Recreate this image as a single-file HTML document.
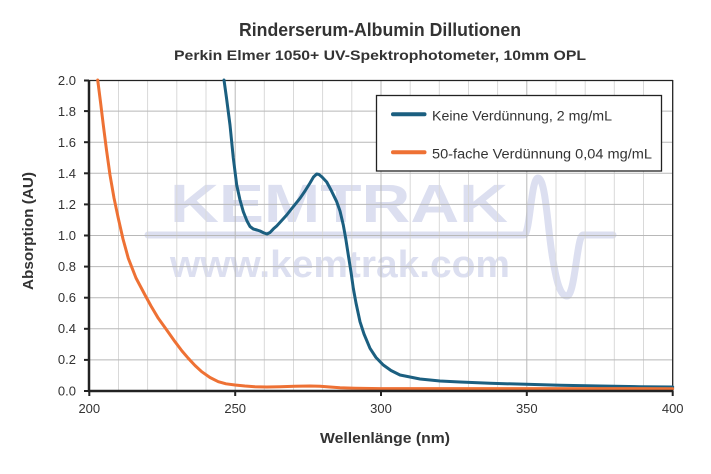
<!DOCTYPE html>
<html><head><meta charset="utf-8"><style>
html,body{margin:0;padding:0;background:#fff;}
svg{display:block;}
text{font-family:"Liberation Sans",sans-serif;fill:#333;}
</style></head><body>
<svg width="711" height="474" viewBox="0 0 711 474" xmlns="http://www.w3.org/2000/svg">
<rect width="711" height="474" fill="#fff"/>
<!-- titles -->
<text x="380" y="36" font-size="18" font-weight="bold" text-anchor="middle" textLength="282" lengthAdjust="spacingAndGlyphs">Rinderserum-Albumin Dillutionen</text>
<text x="380" y="60" font-size="14" font-weight="bold" text-anchor="middle" textLength="412" lengthAdjust="spacingAndGlyphs">Perkin Elmer 1050+ UV-Spektrophotometer, 10mm OPL</text>

<!-- watermark -->
<g fill="#dcdff0" stroke="none">
<text x="170" y="222" font-size="54" font-weight="bold" textLength="338" lengthAdjust="spacingAndGlyphs" style="fill:#dcdff0">KEMTRAK</text>
<text x="170" y="277" font-size="38" font-weight="bold" textLength="340" lengthAdjust="spacingAndGlyphs" style="fill:#dcdff0">www.kemtrak.com</text>
</g>
<path d="M148,235 H524 C530,235 531,178 538,178 C546,178 548,235 553,260 C557,285 561,296 567,296 C575,296 577,235 583,235 H613" fill="none" stroke="#dcdff0" stroke-width="7" stroke-linecap="round" stroke-linejoin="round"/>

<!-- minor vertical grid -->
<g stroke="#d9d9d9" stroke-width="1">
<line x1="118.5" y1="80" x2="118.5" y2="391"/>
<line x1="147.6" y1="80" x2="147.6" y2="391"/>
<line x1="176.8" y1="80" x2="176.8" y2="391"/>
<line x1="206" y1="80" x2="206" y2="391"/>
<line x1="264.3" y1="80" x2="264.3" y2="391"/>
<line x1="293.5" y1="80" x2="293.5" y2="391"/>
<line x1="322.6" y1="80" x2="322.6" y2="391"/>
<line x1="351.8" y1="80" x2="351.8" y2="391"/>
<line x1="410.2" y1="80" x2="410.2" y2="391"/>
<line x1="439.3" y1="80" x2="439.3" y2="391"/>
<line x1="468.5" y1="80" x2="468.5" y2="391"/>
<line x1="497.6" y1="80" x2="497.6" y2="391"/>
<line x1="556" y1="80" x2="556" y2="391"/>
<line x1="585.2" y1="80" x2="585.2" y2="391"/>
<line x1="614.3" y1="80" x2="614.3" y2="391"/>
<line x1="643.5" y1="80" x2="643.5" y2="391"/>
</g>
<g stroke="#b8b8b8" stroke-width="1">
<line x1="235.2" y1="80" x2="235.2" y2="391"/>
<line x1="381" y1="80" x2="381" y2="391"/>
<line x1="526.8" y1="80" x2="526.8" y2="391"/>
<line x1="89" y1="111.1" x2="673" y2="111.1"/>
<line x1="89" y1="142.2" x2="673" y2="142.2"/>
<line x1="89" y1="173.3" x2="673" y2="173.3"/>
<line x1="89" y1="204.4" x2="673" y2="204.4"/>
<line x1="89" y1="235.5" x2="673" y2="235.5"/>
<line x1="89" y1="266.6" x2="673" y2="266.6"/>
<line x1="89" y1="297.7" x2="673" y2="297.7"/>
<line x1="89" y1="328.8" x2="673" y2="328.8"/>
<line x1="89" y1="359.9" x2="673" y2="359.9"/>
</g>

<!-- border -->
<line x1="89" y1="80.5" x2="673" y2="80.5" stroke="#222" stroke-width="1.3"/>
<line x1="672.7" y1="80" x2="672.7" y2="391" stroke="#222" stroke-width="1.3"/>

<!-- series -->
<polyline fill="none" stroke="#1b5f80" stroke-width="3" stroke-linejoin="round" stroke-linecap="round" points="224,80 226.5,98 230,125 233.3,158 236.7,185 240,200 243.3,211.7 247,221 250,226.5 253.3,229 257,230 260,231 264,233 267,234 270,232.5 273.5,228.8 276.7,226 281.7,220.5 286.7,215 293,207 300,198.3 305,191 310,183 313.5,177 316.7,174 319,174.5 322,177 326.7,182 331,190 336.7,201.7 340,211 343.3,225 345.8,239 348.3,255 351,272 353.3,288.3 356,303 360,321.7 364,334 370,348.3 376,357.5 383.3,365 391,370.5 400,375 420,379 440,381 460,382 490,383.3 526,384.3 560,385.3 600,386 640,386.7 672.7,387"/>
<polyline fill="none" stroke="#ee7134" stroke-width="3" stroke-linejoin="round" stroke-linecap="round" points="97.7,80 100.5,102 103.3,125 106.5,150 110,175 114,198 118.3,218.3 123,239 128.3,258.3 136,278 145,295 151,306 158.3,318.3 166,329 175,341.7 182,351 188.3,358.3 195,365.5 201.7,371.7 210,377.5 218.3,381.7 226,383.8 235,385 245,386 255,386.7 266.7,387 280,386.8 295,386.3 310,386 320,386.2 330,387 340,387.8 355,388.3 380,388.6 672.7,388.7"/>

<!-- axes -->
<line x1="89" y1="80" x2="89" y2="392" stroke="#222" stroke-width="2.5"/>
<line x1="88" y1="391" x2="673.5" y2="391" stroke="#222" stroke-width="2.5"/>
<g stroke="#222" stroke-width="2">
<line x1="84" y1="80.5" x2="89" y2="80.5"/>
<line x1="84" y1="111.1" x2="89" y2="111.1"/>
<line x1="84" y1="142.2" x2="89" y2="142.2"/>
<line x1="84" y1="173.3" x2="89" y2="173.3"/>
<line x1="84" y1="204.4" x2="89" y2="204.4"/>
<line x1="84" y1="235.5" x2="89" y2="235.5"/>
<line x1="84" y1="266.6" x2="89" y2="266.6"/>
<line x1="84" y1="297.7" x2="89" y2="297.7"/>
<line x1="84" y1="328.8" x2="89" y2="328.8"/>
<line x1="84" y1="359.9" x2="89" y2="359.9"/>
<line x1="84" y1="391" x2="89" y2="391"/>
<line x1="89.3" y1="391" x2="89.3" y2="396"/>
<line x1="235.2" y1="391" x2="235.2" y2="396"/>
<line x1="381" y1="391" x2="381" y2="396"/>
<line x1="526.8" y1="391" x2="526.8" y2="396"/>
<line x1="672.7" y1="391" x2="672.7" y2="396"/>
</g>

<!-- y tick labels -->
<g font-size="13" text-anchor="end">
<text x="76" y="85">2.0</text>
<text x="76" y="116">1.8</text>
<text x="76" y="147">1.6</text>
<text x="76" y="178">1.4</text>
<text x="76" y="209">1.2</text>
<text x="76" y="240">1.0</text>
<text x="76" y="271">0.8</text>
<text x="76" y="302">0.6</text>
<text x="76" y="333">0.4</text>
<text x="76" y="364">0.2</text>
<text x="76" y="395.5">0.0</text>
</g>
<!-- x tick labels -->
<g font-size="13" text-anchor="middle">
<text x="89.3" y="413">200</text>
<text x="235.2" y="413">250</text>
<text x="381" y="413">300</text>
<text x="526.8" y="413">350</text>
<text x="672.7" y="413">400</text>
</g>

<!-- axis titles -->
<text x="385" y="443" font-size="14.5" font-weight="bold" text-anchor="middle" textLength="130" lengthAdjust="spacingAndGlyphs">Wellenlänge (nm)</text>
<text transform="translate(33,231) rotate(-90)" font-size="14.5" font-weight="bold" text-anchor="middle" textLength="118" lengthAdjust="spacingAndGlyphs">Absorption (AU)</text>

<!-- legend -->
<rect x="376.5" y="95.5" width="285" height="75.5" fill="#fff" stroke="#222" stroke-width="1.3"/>
<line x1="393" y1="114.3" x2="424.5" y2="114.3" stroke="#1b5f80" stroke-width="4" stroke-linecap="round"/>
<line x1="393" y1="152.3" x2="424.5" y2="152.3" stroke="#ee7134" stroke-width="4" stroke-linecap="round"/>
<text x="432" y="120.5" font-size="13.5" textLength="180" lengthAdjust="spacingAndGlyphs">Keine Verdünnung, 2 mg/mL</text>
<text x="432" y="158.5" font-size="13.5" textLength="220" lengthAdjust="spacingAndGlyphs">50-fache Verdünnung 0,04 mg/mL</text>
</svg>
</body></html>
